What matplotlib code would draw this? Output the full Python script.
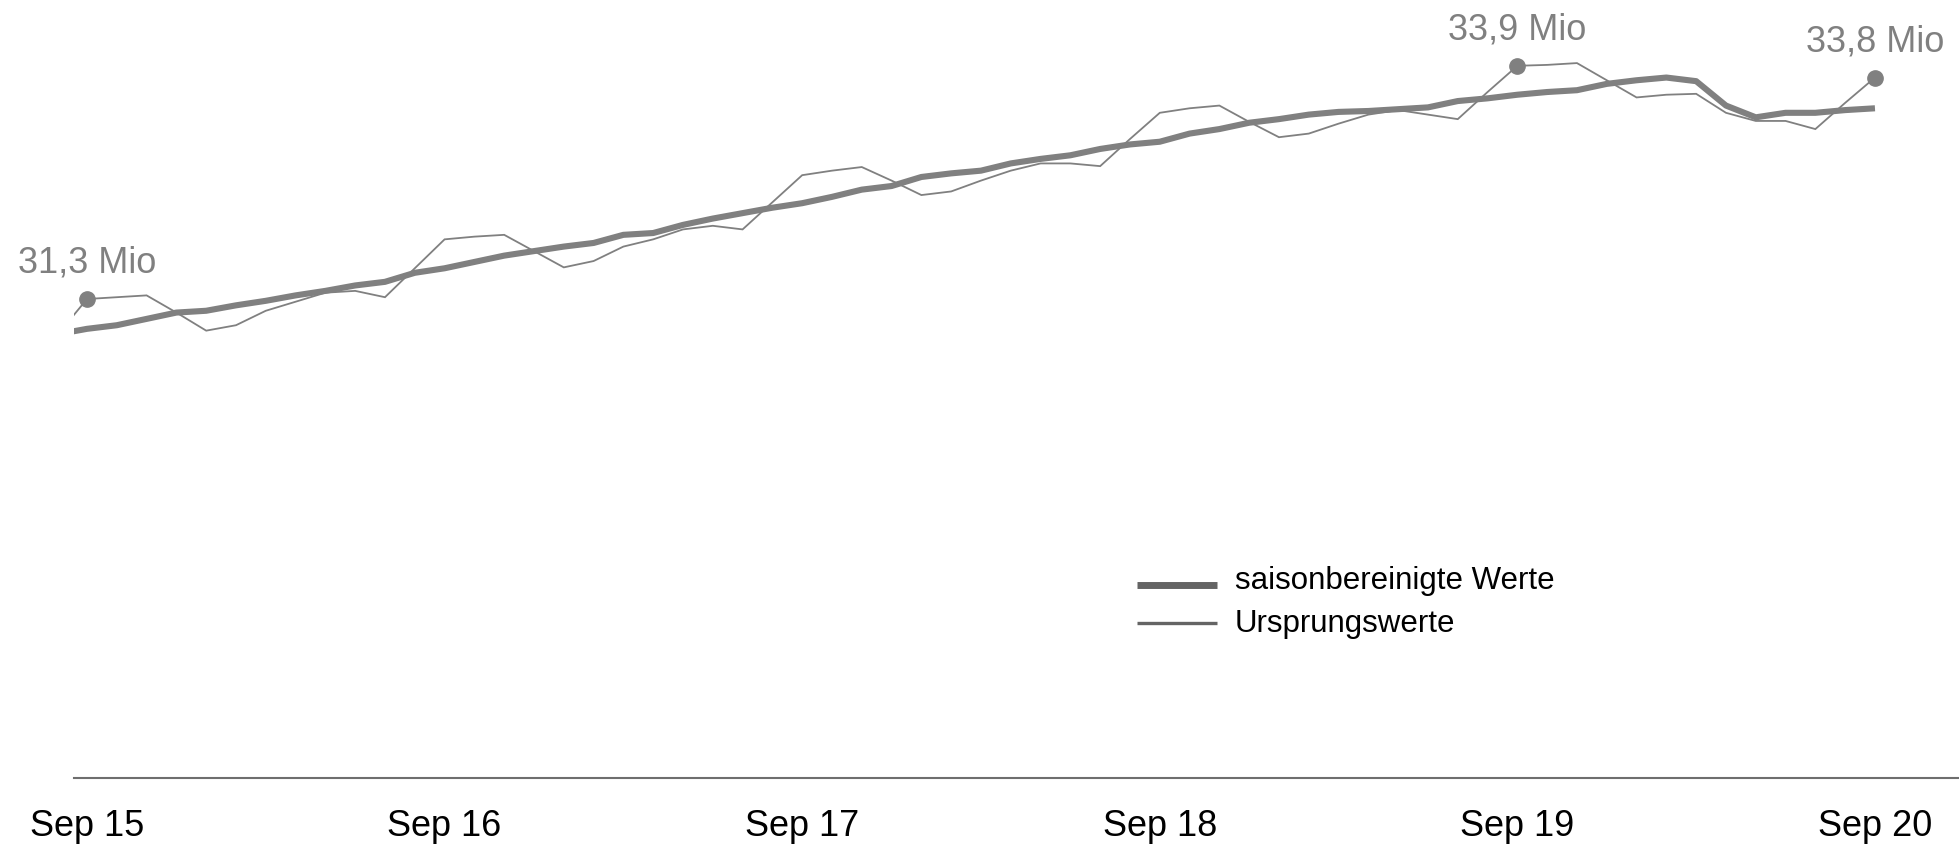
"""
Erwerbstätigkeit: saisonbereinigte Werte vs. Ursprungswerte, Sep 15 – Sep 20.
"""

import matplotlib
matplotlib.use("Agg")
import matplotlib.pyplot as plt
import numpy as np
import pandas as pd

plt.rcParams["font.family"] = ["Liberation Sans", "DejaVu Sans"]

GRAY = "#808080"
AXIS_GRAY = "#6e6e6e"
LEGEND_GRAY = "#646464"

# ── Data (Mio), monthly Aug 2015 – Sep 2020 ──────────────────────────────────
months = pd.date_range("2015-08-01", "2020-09-01", freq="MS")

ursprung = [
    30.92, 31.32, 31.34, 31.36, 31.17, 30.97, 31.03, 31.19, 31.29, 31.39,
    31.41, 31.34, 31.66, 31.98, 32.01, 32.03, 31.85, 31.67, 31.74, 31.90,
    31.98, 32.09, 32.13, 32.09, 32.39, 32.69, 32.74, 32.78, 32.63, 32.47,
    32.51, 32.63, 32.74, 32.82, 32.82, 32.79, 33.09, 33.38, 33.43, 33.46,
    33.28, 33.11, 33.15, 33.26, 33.36, 33.41, 33.36, 33.31, 33.61, 33.90,
    33.91, 33.93, 33.74, 33.55, 33.58, 33.59, 33.38, 33.29, 33.29, 33.20,
    33.49, 33.77,
]

saisonbereinigt = [
    30.93, 30.99, 31.03, 31.10, 31.17, 31.19, 31.25, 31.30, 31.36, 31.41,
    31.47, 31.51, 31.61, 31.66, 31.73, 31.80, 31.85, 31.90, 31.94, 32.03,
    32.05, 32.14, 32.21, 32.27, 32.33, 32.38, 32.45, 32.53, 32.57, 32.67,
    32.71, 32.74, 32.82, 32.87, 32.91, 32.98, 33.03, 33.06, 33.15, 33.20,
    33.27, 33.31, 33.36, 33.39, 33.40, 33.42, 33.44, 33.51, 33.54, 33.58,
    33.61, 33.63, 33.70, 33.74, 33.77, 33.73, 33.46, 33.33, 33.38, 33.38,
    33.41, 33.43,
]

highlight_months = ["2015-09", "2019-09", "2020-09"]
tick_months = ["2015-09", "2016-09", "2017-09", "2018-09", "2019-09", "2020-09"]
tick_labels = ["Sep 15", "Sep 16", "Sep 17", "Sep 18", "Sep 19", "Sep 20"]

legend_labels = ["saisonbereinigte Werte", "Ursprungswerte"]

# ── Figure ───────────────────────────────────────────────────────────────────
W, H = 1959, 845
fig = plt.figure(figsize=(W / 100, H / 100), dpi=100)
ax = fig.add_axes([74 / W, 66 / H, 1 - 74 / W, 779 / H])

month_keys = list(months.strftime("%Y-%m"))
x = np.arange(len(months))
x0 = month_keys.index("2015-09")

ax.plot(x, saisonbereinigt, color=GRAY, lw=4.4, solid_capstyle="butt",
        solid_joinstyle="round", zorder=3)
ax.plot(x, ursprung, color=GRAY, lw=1.3, solid_joinstyle="miter", zorder=2)

# highlighted points with labels
for key in highlight_months:
    i = month_keys.index(key)
    v = ursprung[i]
    ax.plot(x[i], v, "o", ms=11, color=GRAY, zorder=4, clip_on=False)
    label = f"{v:.1f}".replace(".", ",") + " Mio"
    ax.annotate(label, (x[i], v), xytext=(0, 19.5), textcoords="offset points",
                ha="center", va="baseline", fontsize=26, color=GRAY)

# axes
ax.set_xlim(x0 - 0.436, x0 + 62.82)
ax.set_ylim(26.021, 34.639)
ax.set_xticks([month_keys.index(k) for k in tick_months])
ax.set_xticklabels(tick_labels, fontsize=26, color="black")
ax.tick_params(axis="x", length=0, pad=21.5)
ax.set_yticks([])
for s in ["top", "left", "right"]:
    ax.spines[s].set_visible(False)
ax.spines["bottom"].set_color(AXIS_GRAY)
ax.spines["bottom"].set_linewidth(1.5)

# legend (drawn by hand to match the row spacing)
leg_rows = [(0.2481, 0.2439, 5.0), (0.1990, 0.1887, 2.4)]
for (ly, ty, lw), text in zip(leg_rows, legend_labels):
    ax.plot([0.5638, 0.6062], [ly, ly], transform=ax.transAxes,
            color=LEGEND_GRAY, lw=lw, solid_capstyle="butt", clip_on=False)
    ax.text(0.6159, ty, text, transform=ax.transAxes, fontsize=22.5,
            color="black", va="baseline", ha="left")

fig.savefig("out.png", dpi=100, facecolor="white")
